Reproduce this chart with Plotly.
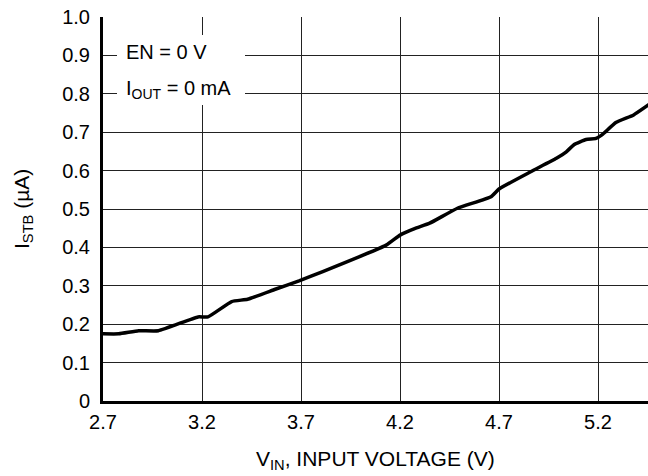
import plotly.graph_objects as go

# Data
vin = [2.70, 2.78, 2.88, 2.98, 3.18, 3.23, 3.35, 3.43, 3.57, 3.69, 3.81, 4.13,
       4.20, 4.28, 4.35, 4.49, 4.66, 4.70, 4.86, 4.99, 5.04, 5.08, 5.14, 5.19,
       5.22, 5.29, 5.38, 5.46]
istb = [0.175, 0.175, 0.183, 0.183, 0.219, 0.219, 0.259, 0.265, 0.291, 0.313,
        0.337, 0.406, 0.432, 0.450, 0.463, 0.502, 0.532, 0.552, 0.597, 0.632,
        0.649, 0.668, 0.681, 0.684, 0.693, 0.725, 0.745, 0.773]

x_ticks = [2.7, 3.2, 3.7, 4.2, 4.7, 5.2]
x_tick_labels = ["2.7", "3.2", "3.7", "4.2", "4.7", "5.2"]
y_ticks = [0, 0.1, 0.2, 0.3, 0.4, 0.5, 0.6, 0.7, 0.8, 0.9, 1.0]
y_tick_labels = ["0", "0.1", "0.2", "0.3", "0.4", "0.5", "0.6", "0.7", "0.8", "0.9", "1.0"]

FONT = "Liberation Sans, Arial, Helvetica, sans-serif"
W, H = 648, 476
L, R, T, B = 103, 0, 17, 75
PW, PH = W - L - R, H - T - B

def px(x):
    return (x - L) / PW

def py(y):
    return (H - B - y) / PH

fig = go.Figure()
fig.add_trace(go.Scatter(x=vin, y=istb, mode="lines",
                         line=dict(color="black", width=3.5, shape="spline", smoothing=0.4),
                         hoverinfo="skip", showlegend=False))

fig.update_layout(
    width=W, height=H,
    margin=dict(l=L, r=R, t=T, b=B, pad=0),
    paper_bgcolor="white", plot_bgcolor="white",
    font=dict(family=FONT, size=20, color="black"),
    showlegend=False,
)
fig.update_xaxes(
    range=[2.7, 2.7 + PW / 198.0], tickvals=x_ticks, ticktext=x_tick_labels,
    showgrid=True, gridcolor="#222222", gridwidth=1.3,
    showline=True, linecolor="black", linewidth=3,
    ticks="outside", ticklen=1, tickcolor="rgba(0,0,0,0)",
    zeroline=False, tickfont=dict(size=20),
)
fig.update_yaxes(
    range=[0, 1.0], tickvals=y_ticks, ticktext=y_tick_labels,
    showgrid=True, gridcolor="#222222", gridwidth=1.3,
    showline=True, linecolor="black", linewidth=3,
    ticks="outside", ticklen=6, tickcolor="rgba(0,0,0,0)",
    zeroline=False, tickfont=dict(size=20),
)

# white box behind the condition text
fig.add_shape(type="rect", xref="paper", yref="paper",
              x0=px(117), x1=px(245), y0=py(105), y1=py(35),
              fillcolor="white", line=dict(width=0), layer="above")

fig.add_annotation(text="EN = 0 V", xref="paper", yref="paper",
                   x=px(124), y=py(52), xanchor="left", yanchor="middle",
                   showarrow=False, font=dict(size=20))
fig.add_annotation(text="I<sub>OUT</sub> = 0 mA", xref="paper", yref="paper",
                   x=px(124), y=py(90), xanchor="left", yanchor="middle",
                   showarrow=False, font=dict(size=20))

# axis titles
fig.add_annotation(text="V<sub>IN</sub>, INPUT VOLTAGE (V)", xref="paper", yref="paper",
                   x=0.5, y=py(460), xanchor="center", yanchor="middle",
                   showarrow=False, font=dict(size=21))
fig.add_annotation(text="I<sub>STB</sub> (µA)", xref="paper", yref="paper",
                   x=px(23), y=py(209), xanchor="center", yanchor="middle",
                   textangle=-90, showarrow=False, font=dict(size=21))

fig.write_html("out.html", config={"displayModeBar": False},
               post_script="document.body.style.margin='0px';document.body.style.padding='0px';")
